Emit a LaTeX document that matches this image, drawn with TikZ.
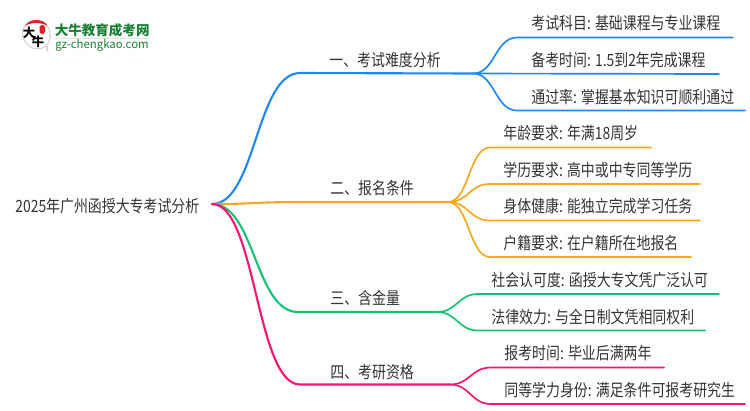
\documentclass[tikz,border=0pt]{standalone}
\usepackage{fontspec}
\setmainfont[FakeStretch=0.825]{Noto Sans CJK SC}
\newfontfamily\logofont{Noto Sans CJK SC}
\definecolor{blueline}{HTML}{1E88F5}
\definecolor{orangeline}{HTML}{F5A81C}
\definecolor{greenline}{HTML}{14C274}
\definecolor{pinkline}{HTML}{FA1470}
\definecolor{inktext}{HTML}{333333}
\definecolor{logogreen}{HTML}{1B7F37}
\definecolor{logored}{HTML}{D8242A}
\tikzset{
  roottext/.style={anchor=west,inner sep=0pt,text=inktext,font=\fontsize{9.6}{10}\selectfont},
  branchtext/.style={anchor=west,inner sep=0pt,text=inktext,font=\fontsize{9.6}{10}\selectfont},
  leaftext/.style={anchor=west,inner sep=0pt,text=inktext,font=\fontsize{9.6}{10}\selectfont},
  mainline/.style={line width=1.2pt,line cap=round},
  subline/.style={line width=0.95pt,line cap=round},
}
\begin{document}
\begin{tikzpicture}[x=0.02cm,y=-0.02cm]
\useasboundingbox (0,0) rectangle (750,410);
% logo
\draw [gray!35,line width=0.6pt,fill=white] (46,46) .. controls (41,50) and (32,50) .. (28,45) .. controls (20,38) and (21,26) .. (30,22) .. controls (38,18) and (49,23) .. (50,33) .. controls (50.5,38) and (49,43) .. (47,45) -- (48,52) -- cycle;
\fill [logored] (25,26) .. controls (29,18) and (44,18) .. (47.5,26) .. controls (41,22) and (31,22) .. (25,26) -- cycle;
\fill [logored,rounded corners=1pt] (39.5,25) rectangle (45,34);
\node (logoda) [inner sep=0pt,font=\logofont\fontsize{7}{8}\selectfont\bfseries] at (29,33) {大};
\node (logoniu) [inner sep=0pt,font=\logofont\fontsize{7}{8}\selectfont\bfseries] at (38,42) {牛};
\node (logoname) [anchor=west,inner sep=0pt,text=logogreen,font=\logofont\fontsize{7.7}{9}\selectfont\bfseries] at (54.5,30) {大牛教育成考网};
\draw [logogreen!18,line width=0.6pt] (55,38.5) -- (150,38.5);
\node (logourl) [anchor=west,inner sep=0pt,text=logogreen,font=\logofont\fontsize{6.5}{7}\selectfont] at (55,45) {gz-chengkao.com};
% root
\node (root) [roottext] at (15,206) {2025年广州函授大专考试分析};
\coordinate (rootend) at (212,204);
% first branch
\coordinate (hardflat) at (300,73);
\coordinate (hardjoin) at (473,73.5);
\node (hard) [branchtext] at (329,60) {一、考试难度分析};
\draw [mainline,blueline] (rootend) .. controls +(44,0) and +(-44,0) .. (hardflat) -- (hardjoin);
\coordinate (subjectstart) at (517,37.5);
\coordinate (subjectend) at (733,37.5);
\coordinate (prepend) at (719,74);
\coordinate (passstart) at (517,110.5);
\coordinate (passend) at (745,110.5);
\node (subject) [leaftext] at (531,23) {考试科目: 基础课程与专业课程};
\node (prep) [leaftext] at (531,60) {备考时间: 1.5到2年完成课程};
\node (pass) [leaftext] at (531,97) {通过率: 掌握基本知识可顺利通过};
\draw [subline,blueline] (hardjoin) .. controls +(22,0) and +(-22,0) .. (subjectstart) -- (subjectend);
\draw [subline,blueline] (hardjoin) -- (prepend);
\draw [subline,blueline] (hardjoin) .. controls +(22,0) and +(-22,0) .. (passstart) -- (passend);
% second branch
\coordinate (applyflat) at (300,202);
\coordinate (applyjoin) at (448,202);
\node (apply) [branchtext] at (330,188) {二、报名条件};
\draw [mainline,orangeline] (rootend) .. controls +(44,0) and +(-44,0) .. (applyflat) -- (applyjoin);
\coordinate (agestart) at (490,147.5);
\coordinate (ageend) at (651,147.5);
\coordinate (degreestart) at (490,184);
\coordinate (degreeend) at (700,184);
\coordinate (healthstart) at (490,220.5);
\coordinate (healthend) at (700,220.5);
\coordinate (residstart) at (490,257);
\coordinate (residend) at (691,257);
\node (age) [leaftext] at (503,133) {年龄要求: 年满18周岁};
\node (degree) [leaftext] at (503,170) {学历要求: 高中或中专同等学历};
\node (health) [leaftext] at (503,206) {身体健康: 能独立完成学习任务};
\node (resid) [leaftext] at (503,243) {户籍要求: 在户籍所在地报名};
\draw [subline,orangeline] (applyjoin) .. controls +(21,0) and +(-21,0) .. (agestart) -- (ageend);
\draw [subline,orangeline] (applyjoin) .. controls +(21,0) and +(-21,0) .. (degreestart) -- (degreeend);
\draw [subline,orangeline] (applyjoin) .. controls +(21,0) and +(-21,0) .. (healthstart) -- (healthend);
\draw [subline,orangeline] (applyjoin) .. controls +(21,0) and +(-21,0) .. (residstart) -- (residend);
% third branch
\coordinate (valueflat) at (298,312);
\coordinate (valuejoin) at (437,312);
\node (value) [branchtext] at (330,298) {三、含金量};
\draw [mainline,greenline] (rootend) .. controls +(43,0) and +(-43,0) .. (valueflat) -- (valuejoin);
\coordinate (socialstart) at (478,294);
\coordinate (socialend) at (719,294);
\coordinate (lawstart) at (478,330.5);
\coordinate (lawend) at (705,330.5);
\node (social) [leaftext] at (491,280) {社会认可度: 函授大专文凭广泛认可};
\node (law) [leaftext] at (491,317) {法律效力: 与全日制文凭相同权利};
\draw [subline,greenline] (valuejoin) .. controls +(20,0) and +(-20,0) .. (socialstart) -- (socialend);
\draw [subline,greenline] (valuejoin) .. controls +(20,0) and +(-20,0) .. (lawstart) -- (lawend);
% fourth branch
\coordinate (examflat) at (300,384.5);
\coordinate (examjoin) at (450,384.5);
\node (exam) [branchtext] at (330,372) {四、考研资格};
\draw [mainline,pinkline] (rootend) .. controls +(44,0) and +(-44,0) .. (examflat) -- (examjoin);
\coordinate (timestart) at (491,367.5);
\coordinate (timeend) at (664,367.5);
\coordinate (equalstart) at (491,404);
\coordinate (equalend) at (745,404);
\node (time) [leaftext] at (504,353) {报考时间: 毕业后满两年};
\node (equal) [leaftext] at (504,390) {同等学力身份: 满足条件可报考研究生};
\draw [subline,pinkline] (examjoin) .. controls +(20,0) and +(-20,0) .. (timestart) -- (timeend);
\draw [subline,pinkline] (examjoin) .. controls +(20,0) and +(-20,0) .. (equalstart) -- (equalend);
\end{tikzpicture}
\end{document}
